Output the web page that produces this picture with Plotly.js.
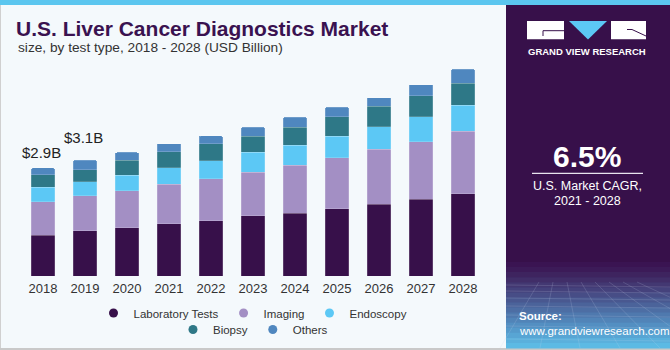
<!DOCTYPE html>
<html><head><meta charset="utf-8">
<script src="https://cdn.plot.ly/plotly-3.0.1.min.js"></script>
<style>html,body{margin:0;padding:0;background:#F4F9FC;}#chart{width:670px;height:350px;}</style>
</head><body><div id="chart"></div>
<script>
// ---- data (USD Billion) ----
const years = ['2018','2019','2020','2021','2022','2023','2024','2025','2026','2027','2028'];
const laboratoryTests = [1.10,1.21,1.30,1.40,1.49,1.62,1.69,1.81,1.93,2.06,2.21];
const imaging         = [0.89,0.94,0.99,1.06,1.12,1.17,1.29,1.37,1.47,1.55,1.67];
const endoscopy       = [0.39,0.38,0.42,0.45,0.49,0.53,0.53,0.57,0.61,0.66,0.70];
const biopsy          = [0.34,0.32,0.40,0.43,0.45,0.43,0.49,0.52,0.55,0.57,0.59];
const others          = [0.18,0.26,0.21,0.21,0.21,0.25,0.26,0.26,0.23,0.30,0.38];
const seriesNames = ['Laboratory Tests','Imaging','Endoscopy','Biopsy','Others'];
const valueLabels = ['$2.9B','$3.1B'];

const colors = ['#37104A','#A38FC4','#5CC8F5','#2E7887','#4F87BF'];
const seriesData = [laboratoryTests, imaging, endoscopy, biopsy, others];
const FONT = 'Liberation Sans, Arial, sans-serif';

const traces = [];
seriesData.forEach((vals, i) => {
  traces.push({
    type: 'bar', x: years, y: vals, name: seriesNames[i], showlegend: false,
    marker: {color: colors[i], line: {color: 'rgba(255,255,255,0.35)', width: 0.5}},
    hoverinfo: 'skip'
  });
});
// legend-only markers (circles), on a hidden helper axis pair
seriesData.forEach((vals, i) => {
  traces.push({
    type: 'scatter', mode: 'markers', x: [0], y: [null], xaxis: 'x2', yaxis: 'y2', name: seriesNames[i],
    marker: {color: colors[i], size: 9, symbol: 'circle'},
    legend: i < 3 ? 'legend' : 'legend2', hoverinfo: 'skip'
  });
});

// pixel -> paper helpers (plot area: x 22..484, y 60..276)
const L = 22, R = 484, T = 60, B = 276;
const X = px => (px - L) / (R - L);
const Y = py => (B - py) / (B - T);

const totals = years.map((_, j) => seriesData.reduce((s, a) => s + a[j], 0));

const shapes = [];
function rect(x0, y0, x1, y1, fill, layer) {
  shapes.push({type: 'rect', xref: 'paper', yref: 'paper', x0: X(x0), x1: X(x1), y0: Y(y1), y1: Y(y0),
    fillcolor: fill, line: {width: 0}, layer: layer || 'below'});
}
function path(pts, opts) {
  const d = pts.map((p, k) => (k ? 'L' : 'M') + X(p[0]) + ',' + Y(p[1])).join(' ') + (opts.close ? ' Z' : '');
  shapes.push(Object.assign({type: 'path', xref: 'paper', yref: 'paper', path: d, layer: 'above'}, opts.s));
}
// frame
rect(0, 0, 670, 5, '#5BC6EF');
rect(0, 348, 670, 350, '#C9C9C9');
rect(0, 5, 1, 348, '#D0D0D0');
// right panel
rect(506, 5, 670, 348, '#37104A');
const grad = ['#3A1452','#3C1B58','#3E245F','#412E68','#433872','#45427C','#474D86','#495890','#4B639A','#4D6EA4','#4F79AE','#5184B8','#538FC2','#559ACB','#58A5D4','#5AB0DC','#5CBAE4'];
const gy0 = 262, gstep = (348 - gy0) / grad.length;
grad.forEach((c, k) => rect(506, gy0 + k * gstep, 670, gy0 + (k + 1) * gstep + 0.5, c));
// faint perspective grid
const gridCol = {line: {color: 'rgba(200,215,240,0.22)', width: 0.8}};
[285, 291, 298, 306, 315, 326, 339].forEach(y => path([[506, y], [670, y + 2]], {s: gridCol}));
[-60, -20, 20, 60, 100, 140, 180, 220].forEach(dx => path([[560 + dx * 0.35, 282], [560 + dx, 348]], {s: gridCol}));
// logo
rect(527, 21, 564, 39.3, '#FFFFFF', 'above');
rect(611, 21, 646, 39.3, '#FFFFFF', 'above');
path([[569, 21], [607, 21], [588, 39.5]], {close: true, s: {fillcolor: '#5CC8F5', line: {width: 0}}});
path([[543, 36], [543, 30.7], [564, 30.7]], {s: {line: {color: '#37104A', width: 1}}});
path([[627, 29.5], [632, 29.5], [646, 36]], {s: {line: {color: '#37104A', width: 1}}});
// divider under CAGR
path([[532, 173.3], [643, 173.3]], {s: {line: {color: '#E8E4EE', width: 1.2}}});

const annotations = [
  {xref: 'paper', yref: 'paper', x: X(16), y: Y(48), xanchor: 'left', yanchor: 'middle', showarrow: false,
   text: 'size, by test type, 2018 - 2028 (USD Billion)', font: {family: FONT, size: 13.7, color: '#333333'}},
  {xref: 'x', yref: 'y', x: 0, y: totals[0], xshift: -2, yshift: 15.7, yanchor: 'middle', showarrow: false,
   text: valueLabels[0], font: {family: FONT, size: 15, color: '#222222'}},
  {xref: 'x', yref: 'y', x: 1, y: totals[1], xshift: -1.5, yshift: 22.6, yanchor: 'middle', showarrow: false,
   text: valueLabels[1], font: {family: FONT, size: 15, color: '#222222'}},
  {xref: 'paper', yref: 'paper', x: X(586.5), y: Y(51.7), xanchor: 'center', yanchor: 'middle', showarrow: false,
   text: '<b>GRAND VIEW RESEARCH</b>', font: {family: FONT, size: 9.5, color: '#FFFFFF'}},
  {xref: 'paper', yref: 'paper', x: X(587), y: Y(156), xanchor: 'center', yanchor: 'middle', showarrow: false,
   text: '<b>6.5%</b>', font: {family: FONT, size: 30, color: '#FFFFFF'}},
  {xref: 'paper', yref: 'paper', x: X(587), y: Y(186), xanchor: 'center', yanchor: 'middle', showarrow: false,
   text: 'U.S. Market CAGR,', font: {family: FONT, size: 12.5, color: '#FFFFFF'}},
  {xref: 'paper', yref: 'paper', x: X(587), y: Y(201), xanchor: 'center', yanchor: 'middle', showarrow: false,
   text: '2021 - 2028', font: {family: FONT, size: 12.5, color: '#FFFFFF'}},
  {xref: 'paper', yref: 'paper', x: X(517), y: Y(316), xanchor: 'left', yanchor: 'middle', showarrow: false,
   text: '<b>Source:</b>', font: {family: FONT, size: 11.5, color: '#FFFFFF'}},
  {xref: 'paper', yref: 'paper', x: X(517), y: Y(330.5), xanchor: 'left', yanchor: 'middle', showarrow: false,
   text: 'www.grandviewresearch.com', font: {family: FONT, size: 11.5, color: '#FFFFFF'}}
];

const legendBase = {orientation: 'h', xref: 'paper', x: 0.5, xanchor: 'center', yanchor: 'middle',
  traceorder: 'normal', font: {family: FONT, size: 11.5, color: '#333333'}, bgcolor: 'rgba(0,0,0,0)',
  itemwidth: 30, borderwidth: 0};

const layout = {
  width: 670, height: 350,
  margin: {l: L, r: 670 - R, t: T, b: 350 - B, pad: 0, autoexpand: false},
  paper_bgcolor: '#F4F9FC', plot_bgcolor: '#F4F9FC',
  font: {family: FONT},
  title: {text: '<b>U.S. Liver Cancer Diagnostics Market</b>', xref: 'container', yref: 'container',
    x: 16 / 670, xanchor: 'left', y: 1 - 28.5 / 350, yanchor: 'middle',
    font: {family: FONT, size: 21, color: '#3A1250'}},
  barmode: 'stack', bargap: 0.43, barcornerradius: 2,
  xaxis: {type: 'category', range: [-0.5, years.length - 0.5], autorange: false, automargin: false,
    showgrid: false, zeroline: false, showline: false, ticks: '', ticklabelstandoff: 3,
    tickfont: {family: FONT, size: 13, color: '#333333'}, fixedrange: true},
  yaxis: {visible: false, range: [0, (B - T) / 37.25], autorange: false, automargin: false, fixedrange: true},
  xaxis2: {visible: false, overlaying: 'x', range: [0, 1], fixedrange: true},
  yaxis2: {visible: false, overlaying: 'y', range: [0, 1], fixedrange: true},
  legend: Object.assign({}, legendBase, {y: Y(313)}),
  legend2: Object.assign({}, legendBase, {y: Y(329.5)}),
  shapes: shapes, annotations: annotations, showlegend: true
};

Plotly.newPlot('chart', traces, layout, {displayModeBar: false, staticPlot: true});
</script></body></html>
